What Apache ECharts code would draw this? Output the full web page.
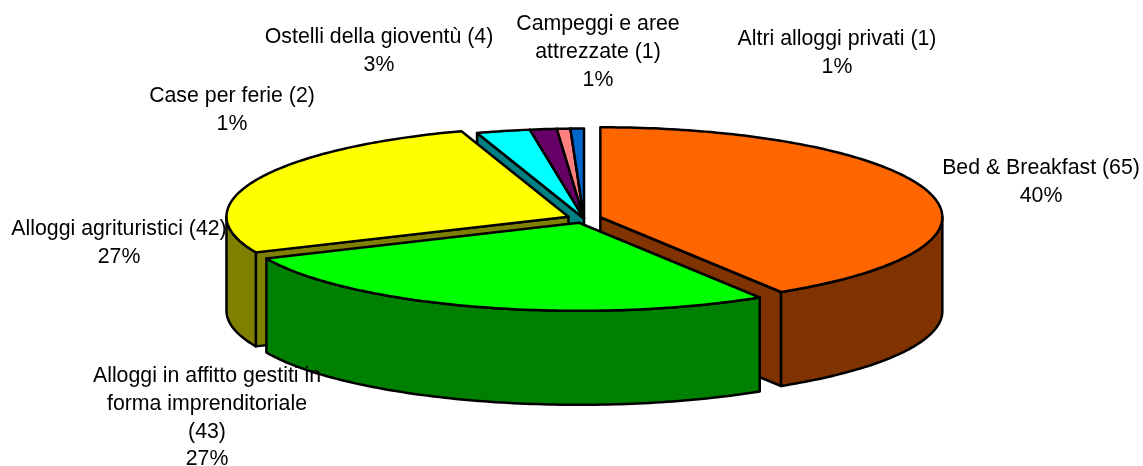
<!DOCTYPE html>
<html>
<head>
<meta charset="utf-8">
<script src="https://cdn.jsdelivr.net/npm/echarts@6/dist/echarts.min.js"></script>
<style>
  html, body { margin: 0; padding: 0; background: #fff; }
  #chart { width: 1143px; height: 466px; }
</style>
</head>
<body>
<div id="chart"></div>
<script>
// clockwise from 12 o'clock, same order as the slices in the picture
var categories = ['Bed & Breakfast (65)', 'Alloggi in affitto gestiti in\nforma imprenditoriale\n(43)', 'Alloggi agrituristici (42)', 'Ostelli della gioventù (4)', 'Case per ferie (2)', 'Campeggi e aree\nattrezzate (1)', 'Altri alloggi privati (1)'];
var values = [65, 43, 42, 4, 2, 1, 1];
var percents = ['40%', '27%', '27%', '3%', '1%', '1%', '1%'];

var topColors = ['#FF6600', '#00FF00', '#FFFF00', '#00FFFF', '#660066', '#FF8080', '#0066CC'];
var sideColors = ['#803300', '#008000', '#808000', '#008080', '#330033', '#804040', '#003366'];
var exploded = [true, true, true, false, false, false, false];
// back slices first so the front ones paint over them
var drawOrder = [3, 4, 5, 6, 2, 0, 1];
var labelPos = [[1041, 182], [207, 418], [119, 243], [379, 51], [232, 110], [598, 52], [837, 53]];

var cx = 584, cy = 218.5, rx = 342, ryBack = 90, ryFront = 88, depth = 94, explode = 17;
var total = values.reduce(function (a, b) { return a + b; }, 0);

function ellipsePoint(c, deg, dy) {
  var r = deg * Math.PI / 180;
  var cos = Math.cos(r);
  return [c[0] + rx * Math.sin(r), c[1] - (cos > 0 ? ryBack : ryFront) * cos + (dy || 0)];
}

function arcPoints(c, from, to, dy) {
  var pts = [];
  var n = Math.max(2, Math.ceil(Math.abs(to - from)));
  for (var i = 0; i <= n; i++) {
    pts.push(ellipsePoint(c, from + (to - from) * i / n, dy));
  }
  return pts;
}

function poly(points, fill) {
  return {
    type: 'polygon',
    shape: { points: points },
    style: { fill: fill, stroke: '#000', lineWidth: 2.5, lineJoin: 'round' }
  };
}

function radialFace(c, deg, fill) {
  var p = ellipsePoint(c, deg);
  return poly([c, p, [p[0], p[1] + depth], [c[0], c[1] + depth]], fill);
}

function renderSlice(params, api) {
  var i = api.value(0);
  var start = 0;
  for (var k = 0; k < i; k++) start += values[k] / total * 360;
  var end = start + values[i] / total * 360;
  var mid = (start + end) / 2 * Math.PI / 180;
  var c = [cx, cy];
  if (exploded[i]) {
    c = [cx + explode * Math.sin(mid), cy - explode * ryBack / rx * Math.cos(mid)];
  }
  var prev = (i + values.length - 1) % values.length;
  var next = (i + 1) % values.length;
  var kids = [];
  // a cut face only shows where the neighbouring slice has moved away
  if (Math.sin(start * Math.PI / 180) < -1e-6 && (exploded[i] || exploded[prev])) {
    kids.push(radialFace(c, start, sideColors[i]));
  }
  if (Math.sin(end * Math.PI / 180) > 1e-6 && (exploded[i] || exploded[next])) {
    kids.push(radialFace(c, end, sideColors[i]));
  }
  var a = Math.max(start, 90), b = Math.min(end, 270);
  if (b > a) {
    kids.push(poly(arcPoints(c, a, b, 0).concat(arcPoints(c, b, a, depth)), sideColors[i]));
  }
  kids.push(poly([c].concat(arcPoints(c, start, end, 0)), topColors[i]));
  return { type: 'group', children: kids };
}

var labels = categories.map(function (name, i) {
  return {
    type: 'text',
    x: labelPos[i][0],
    y: labelPos[i][1],
    z: 100,
    style: {
      text: name + '\n' + percents[i],
      align: 'center',
      verticalAlign: 'middle',
      fontFamily: '"Liberation Sans", Arial, sans-serif',
      fontSize: 21.3,
      lineHeight: 27.7,
      fill: '#000'
    }
  };
});

var myChart = echarts.init(document.getElementById('chart'));
myChart.setOption({
  animation: false,
  backgroundColor: '#fff',
  graphic: labels,
  series: [{
    type: 'custom',
    coordinateSystem: 'none',
    renderItem: renderSlice,
    data: drawOrder.map(function (i) { return [i]; })
  }]
});
</script>
</body>
</html>
